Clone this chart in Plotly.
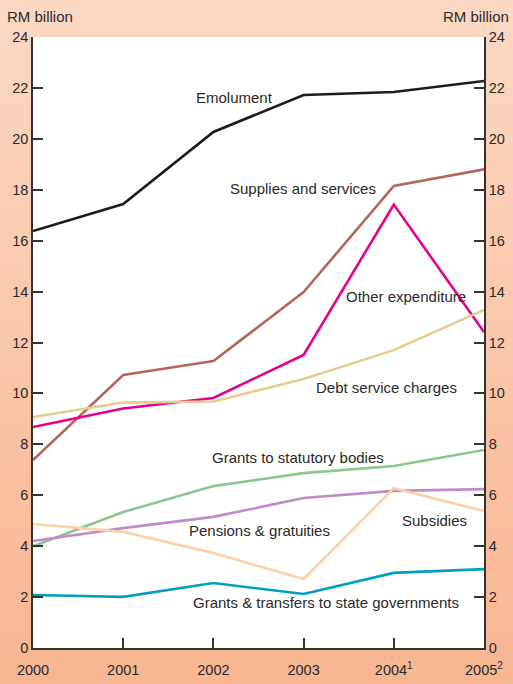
import plotly.graph_objects as go

years = [2000, 2001, 2002, 2003, 2004, 2005]
year_labels = ["2000", "2001", "2002", "2003", "2004<sup>1</sup>", "2005<sup>2</sup>"]

emolument = [16.38, 17.44, 20.27, 21.72, 21.84, 22.27]
supplies = [7.38, 10.72, 11.27, 13.98, 18.15, 18.80]
other_exp = [8.68, 9.41, 9.82, 11.51, 17.42, 12.41]
debt_service = [9.07, 9.64, 9.68, 10.57, 11.70, 13.28]
grants_statutory = [4.00, 5.34, 6.36, 6.87, 7.15, 7.78]
pensions = [4.20, 4.71, 5.15, 5.89, 6.17, 6.24]
subsidies = [4.87, 4.56, 3.73, 2.71, 6.28, 5.38]
grants_states = [2.08, 2.01, 2.55, 2.12, 2.95, 3.10]

series = [
    ("Emolument", emolument, "#1c1c1c", 2002.23, 21.64),
    ("Supplies and services", supplies, "#b5665a", 2002.99, 18.03),
    ("Other expenditure", other_exp, "#e8008a", 2004.14, 13.79),
    ("Debt service charges", debt_service, "#e6cc92", 2003.92, 10.25),
    ("Grants to statutory bodies", grants_statutory, "#8dc68d", 2002.94, 7.50),
    ("Pensions & gratuities", pensions, "#c08cc8", 2002.51, 4.60),
    ("Subsidies", subsidies, "#fcd0a8", 2004.45, 4.99),
    ("Grants & transfers to state governments", grants_states, "#00a0be", 2003.25, 1.77),
]

fig = go.Figure()
annotations = []
for name, vals, color, lx, ly in series:
    fig.add_trace(go.Scatter(x=years, y=vals, mode="lines", name=name,
                             line=dict(color=color, width=2.6), hoverinfo="skip",
                             cliponaxis=False))
    annotations.append(dict(x=lx, y=ly, xref="x", yref="y", text=name, showarrow=False,
                            font=dict(size=15, color="#2a2a2a")))

# invisible trace for right axis
fig.add_trace(go.Scatter(x=[years[0]], y=[0], yaxis="y2", mode="markers",
                         marker=dict(opacity=0), hoverinfo="skip", showlegend=False))

annotations.append(dict(x=0, y=1, xref="paper", yref="paper", text="RM billion", showarrow=False,
                        xanchor="left", yanchor="bottom", xshift=-28, yshift=10,
                        font=dict(size=15, color="#2a2a2a")))
annotations.append(dict(x=1, y=1, xref="paper", yref="paper", text="RM billion", showarrow=False,
                        xanchor="right", yanchor="bottom", xshift=27, yshift=10,
                        font=dict(size=15, color="#2a2a2a")))

# background gradient bands
W, H = 513, 684
ml, mr, mt, mb = 33, 29, 37, 36
pw, ph = W - ml - mr, H - mt - mb
top_c = (252, 216, 194)
bot_c = (248, 182, 147)
n = 40
shapes = []
for i in range(n):
    t = i / (n - 1)
    c = tuple(int(round(top_c[k] + (bot_c[k] - top_c[k]) * t)) for k in range(3))
    y0px = i * H / n
    y1px = (i + 1) * H / n + 1
    y_top = 1 + (mt - y0px) / ph
    y_bot = 1 + (mt - y1px) / ph
    shapes.append(dict(type="rect", xref="paper", yref="paper",
                       x0=-ml / pw - 0.01, x1=1 + mr / pw + 0.01, y0=y_bot, y1=y_top,
                       fillcolor="rgb(%d,%d,%d)" % c, line=dict(width=0), layer="below"))
shapes.append(dict(type="rect", xref="paper", yref="paper", x0=0, x1=1, y0=0, y1=1,
                   fillcolor="white", line=dict(width=0), layer="below"))

axis_common = dict(range=[0, 24], dtick=2, ticks="inside", ticklen=10, tickwidth=1.5,
                   tickcolor="#333", showline=True, linecolor="#333", linewidth=1.5,
                   showgrid=False, zeroline=False, tickfont=dict(size=14.5, color="#2a2a2a"),
                   fixedrange=True, automargin=False)

fig.update_layout(
    width=W, height=H,
    margin=dict(l=ml, r=mr, t=mt, b=mb, autoexpand=False),
    paper_bgcolor="rgb(248,182,147)",
    plot_bgcolor="rgba(0,0,0,0)",
    font=dict(family="Liberation Sans, Arial, sans-serif", size=14, color="#2a2a2a"),
    showlegend=False,
    xaxis=dict(range=[2000, 2005], tickvals=years, ticktext=year_labels,
               ticks="inside", ticklen=10, tickwidth=1.5, tickcolor="#333",
               showline=True, linecolor="#333", linewidth=1.5, showgrid=False,
               zeroline=False, tickfont=dict(size=14.5, color="#2a2a2a"),
               ticklabelstandoff=8, automargin=False, fixedrange=True),
    yaxis=dict(side="left", **axis_common),
    yaxis2=dict(side="right", overlaying="y", **axis_common),
    annotations=annotations,
    shapes=shapes,
)

fig.write_html("out.html", config={"displayModeBar": False},
               post_script="document.body.style.margin='0';document.body.style.overflow='hidden';")
